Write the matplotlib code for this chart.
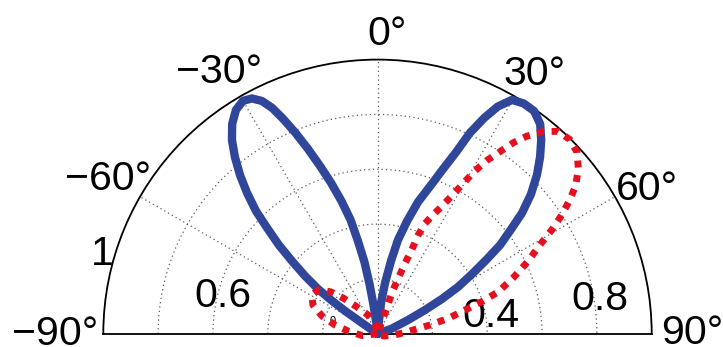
import numpy as np
import matplotlib
matplotlib.use("Agg")
import matplotlib.pyplot as plt

plt.rcParams['font.family'] = ['Liberation Sans', 'DejaVu Sans']

# blue pattern (solid line), angle in degrees, normalised radius
blue_theta = [-90, -55.5, -55.2, -55.0, -54.8, -54.0, -53.0, -51.4, -49.6, -48.0, -46.2, -44.7,
              -42.8, -40.9, -38.9, -36.9, -34.7, -32.3, -30.0, -28.1, -26.4, -25.0, -23.7,
              -22.2, -20.6, -18.9, -17.1, -15.2, -13.3, -11.9, -10.3, -9.1, -7.9, -5.8, -5.5,
              6.0, 6.5, 6.5, 8.4, 10.5, 12.3, 14.7, 17.1, 19.8, 21.7, 23.4, 24.7, 26.3, 27.9,
              29.9, 32.4, 35.1, 37.8, 40.2, 42.6, 45.1, 47.7, 50.1, 51.8, 54.1, 55.8, 57.7,
              59.8, 61.6, 63.4, 65.7, 69.9, 71, 90]
blue_r = [0, 0, 0.033, 0.087, 0.145, 0.210, 0.272, 0.338, 0.410, 0.484, 0.558, 0.630,
          0.700, 0.766, 0.828, 0.884, 0.931, 0.966, 0.981, 0.973, 0.948, 0.909, 0.856,
          0.791, 0.720, 0.647, 0.576, 0.502, 0.427, 0.346, 0.266, 0.184, 0.106, 0.036, 0,
          0, 0.043, 0.113, 0.187, 0.270, 0.350, 0.425, 0.503, 0.577, 0.647, 0.722, 0.806, 0.878, 0.938,
          0.984, 0.995, 0.993, 0.968, 0.925, 0.876, 0.821, 0.757, 0.687, 0.624, 0.552, 0.479, 0.408,
          0.340, 0.267, 0.194, 0.122, 0.056, 0, 0]

# red pattern (dotted line)
red_theta = [-100, -96.3, -84.6, -78.3, -72.2, -65.9, -59.4, -52.9, -48.0, -43.5, -37.4, -26.8,
             -15.9, 0, 20.0, 19.3, 20.5, 21.3, 22.2, 22.4, 23.3, 25.0, 26.6, 28.3, 29.6, 30.8,
             32.2, 33.9, 35.4, 37.1, 39.3, 41.7, 44.7, 47.7, 50.6, 53.3, 55.3, 57.2, 59.2, 61.3,
             64.2, 67.4, 70.8, 72.9, 74.8, 77.7, 80.5, 84.5, 93.9, 108.7, 120]
red_r = [0, 0.057, 0.108, 0.158, 0.213, 0.258, 0.278, 0.268, 0.228, 0.177, 0.123, 0.077,
         0.033, 0, 0.093, 0.157, 0.216, 0.276, 0.330, 0.390, 0.438, 0.478, 0.517, 0.571, 0.627, 0.689,
         0.746, 0.800, 0.855, 0.904, 0.953, 0.989, 0.997, 0.984, 0.948, 0.901, 0.850, 0.799, 0.740, 0.675,
         0.611, 0.539, 0.467, 0.398, 0.331, 0.264, 0.194, 0.125, 0.064, 0.025, 0]

angle_ticks = [-90, -60, -30, 0, 30, 60, 90]
ring_ticks = [0.2, 0.4, 0.6, 0.8]

# label text, (theta deg, r) of baseline centre
angle_labels = [('\u221290\u00b0', -92.0, 1.177), ('\u221260\u00b0', -61.9, 1.112),
                ('\u221230\u00b0', -32.3, 1.082), ('0\u00b0', 1.8, 1.054),
                ('30\u00b0', 32.3, 1.074), ('60\u00b0', 63.6, 1.097), ('90\u00b0', 91.8, 1.148)]
radius_labels = [('1', -76.0, 1.034), ('0.6', -80.2, 0.574), ('0.4', 86.6, 0.416), ('0.8', 83.9, 0.814)]

fig = plt.figure(figsize=(7.23, 3.47), dpi=100)
W, H = 723, 347
R = 274.2
cx, cy = 377.5, 333.8
ax = fig.add_axes([(cx - R) / W, (H - cy + R / 2 - R) / H, 2 * R / W, 2 * R / H], projection='polar')
ax.set_thetamin(-90)
ax.set_thetamax(90)
ax.set_theta_zero_location('N')
ax.set_theta_direction(-1)
ax.set_rlim(0, 1)

ax.set_thetagrids(angle_ticks, labels=[''] * len(angle_ticks))
ax.set_rgrids(ring_ticks, labels=[''] * len(ring_ticks))
ax.grid(True, linestyle=(0, (1, 2.5)), color='0.35', linewidth=0.9)
ax.tick_params(length=0)
for s in ax.spines.values():
    s.set_linewidth(1.3)
    s.set_color('black')

ax.plot(np.deg2rad(blue_theta), blue_r, color='#30469b', linewidth=6, clip_on=False,
        solid_capstyle='round', solid_joinstyle='round', zorder=3)
ax.plot(np.deg2rad(red_theta), red_r, color='#e5101f', linewidth=5, linestyle=(0, (1, 1.1)),
        clip_on=False, zorder=4)

for txt, th, r in angle_labels + radius_labels:
    ax.text(np.deg2rad(th), r, txt, fontsize=29.5, ha='center', va='baseline', clip_on=False)
ax.text(np.deg2rad(-77.7), 0.168, '0', fontsize=8, ha='center', va='baseline', zorder=2)

fig.savefig('out.png', dpi=100)
